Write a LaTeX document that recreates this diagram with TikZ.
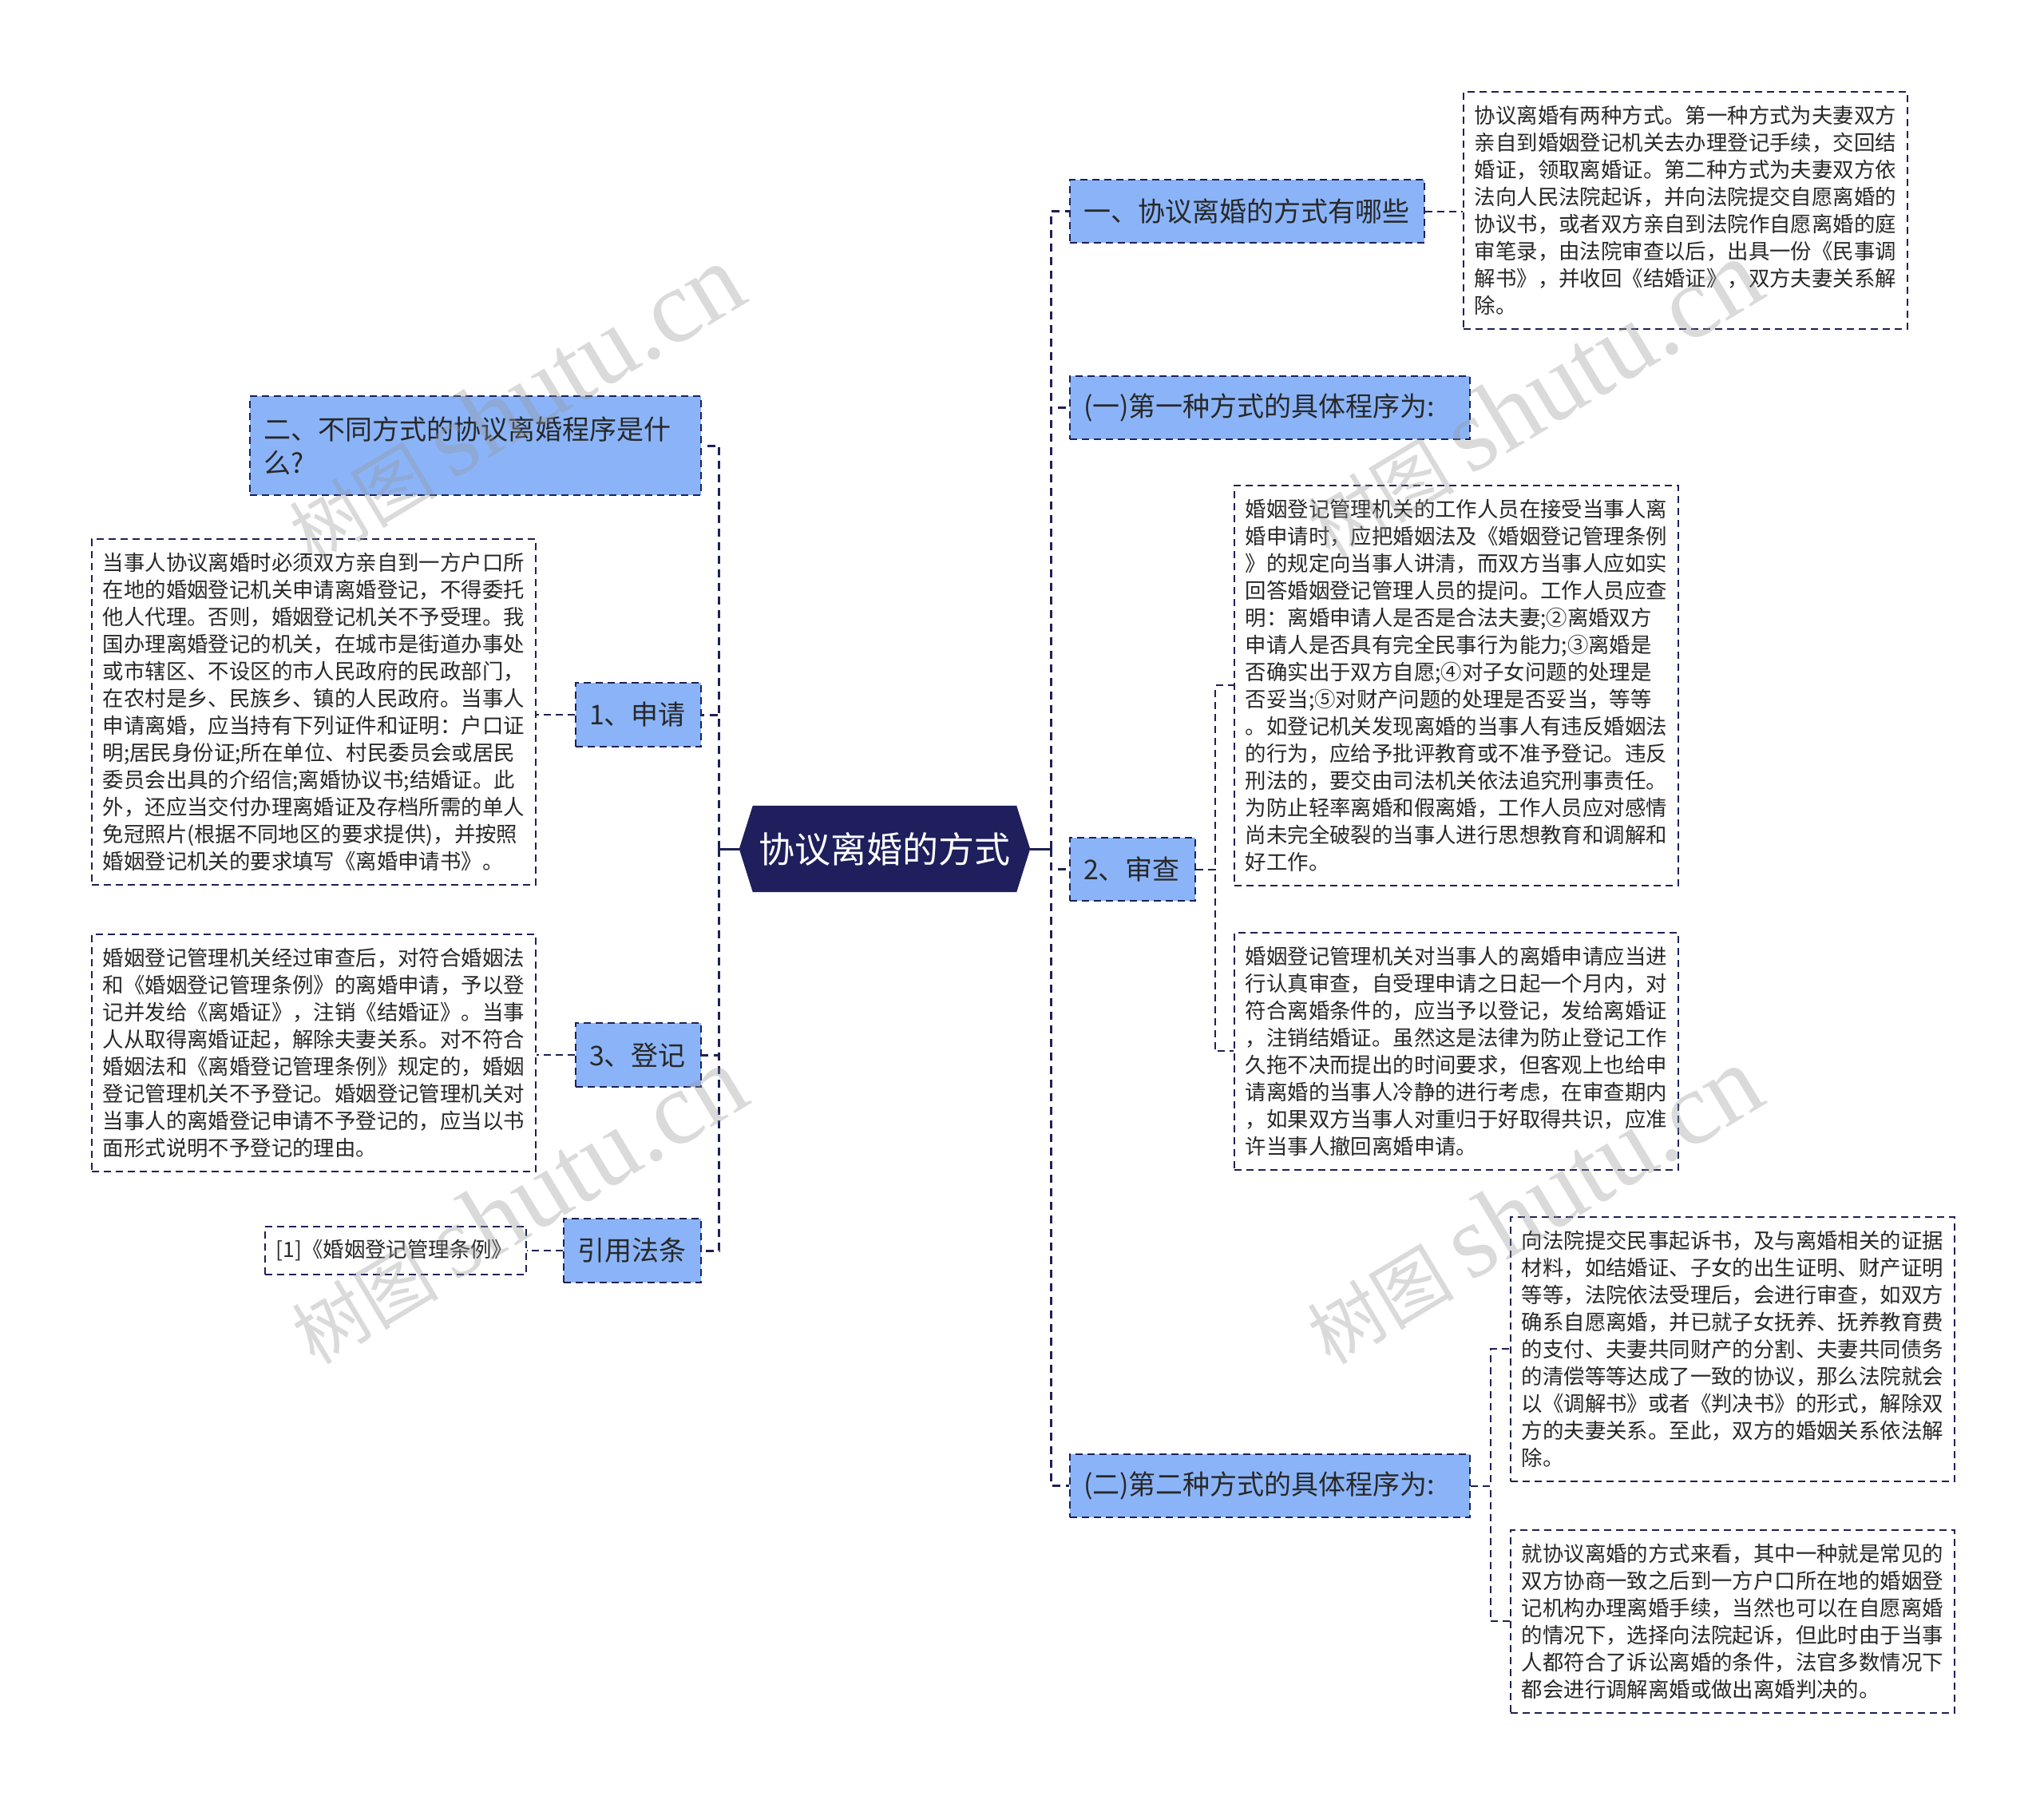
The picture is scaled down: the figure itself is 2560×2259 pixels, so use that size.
\documentclass[tikz,border=0pt]{standalone}
\usepackage{fontspec}
\setmainfont{Noto Sans CJK SC}
\newfontfamily\wmserif{Liberation Serif}
\usetikzlibrary{backgrounds,calc}
\definecolor{navy}{RGB}{30,32,84}
\definecolor{rootfill}{RGB}{30,31,92}
\definecolor{topicfill}{RGB}{139,180,248}
\definecolor{txt}{RGB}{40,40,40}
\definecolor{wm}{RGB}{150,150,150}
\tikzset{
 topic/.style={draw=navy, line width=2pt, dash pattern=on 9pt off 6pt, fill=topicfill, anchor=north west, inner xsep=17pt, inner ysep=0pt, align=left, text=txt, font=\fontsize{34pt}{42pt}\selectfont},
 leaf/.style={draw=navy, line width=1.6pt, dash pattern=on 9pt off 6pt, anchor=north west, inner xsep=14pt, inner ysep=0pt, align=left, text=txt, font=\fontsize{26.4pt}{34pt}\selectfont, text width=528pt},
 trunk/.style={draw=navy, line width=3pt, dash pattern=on 10pt off 7pt},
 rootstub/.style={draw=navy, line width=3pt},
 conn/.style={draw=navy, line width=2pt, dash pattern=on 9pt off 6pt},
 wmark/.style={rotate=31, text=wm, opacity=0.35, inner sep=0pt}
}
\newcommand{\wmtext}{\fontsize{92pt}{92pt}\selectfont 树图\ {\wmserif\fontsize{130pt}{130pt}\selectfont shutu.cn}}
\begin{document}
\begin{tikzpicture}[x=1pt,y=-1pt]
\begin{scope}[on background layer]
\fill[white] (0,0) rectangle (2560,2259);
\end{scope}
\useasboundingbox (0,0) rectangle (2560,2259);

% root
\node[text=white, font=\fontsize{45pt}{54pt}\selectfont, minimum width=364pt, minimum height=108pt, inner sep=0pt] (root) at (1108,1063) {协议离婚的方式};
\begin{scope}[on background layer]
\fill[rootfill] (root.west) -- ([xshift=17pt]root.north west) -- ([xshift=-17pt]root.north east) -- (root.east) -- ([xshift=-17pt]root.south east) -- ([xshift=17pt]root.south west) -- cycle;
\end{scope}

% right topics
\node[topic, text width=410pt, minimum height=79pt] (R1) at (1339,224) {一、协议离婚的方式有哪些};
\node[topic, text width=467pt, minimum height=79pt] (R2) at (1339,470) {(一)第一种方式的具体程序为:};
\node[topic, text width=123pt, minimum height=79pt] (R3) at (1339,1048) {2、审查};
\node[topic, text width=467pt, minimum height=79pt] (R4) at (1339,1820) {(二)第二种方式的具体程序为:};

% left topics
\node[topic, text width=531pt, minimum height=124pt] (L1) at (312,495) {二、不同方式的协议离婚程序是什\\么?};
\node[topic, text width=123pt, minimum height=80pt] (L2) at (720,854) {1、申请};
\node[topic, text width=123pt, minimum height=80pt] (L3) at (720,1280) {3、登记};
\node[topic, text width=138pt, minimum height=80pt] (L4) at (705,1525) {引用法条};

% leaves
\node[leaf, minimum height=297pt] (T1) at (1832,114) {协议离婚有两种方式。第一种方式为夫妻双方\\亲自到婚姻登记机关去办理登记手续，交回结\\婚证，领取离婚证。第二种方式为夫妻双方依\\法向人民法院起诉，并向法院提交自愿离婚的\\协议书，或者双方亲自到法院作自愿离婚的庭\\审笔录，由法院审查以后，出具一份《民事调\\解书》，并收回《结婚证》，双方夫妻关系解\\除。};

\node[leaf, minimum height=501pt] (T2) at (1545,607) {婚姻登记管理机关的工作人员在接受当事人离\\婚申请时，应把婚姻法及《婚姻登记管理条例\\》的规定向当事人讲清，而双方当事人应如实\\回答婚姻登记管理人员的提问。工作人员应查\\明：离婚申请人是否是合法夫妻;②离婚双方\\申请人是否具有完全民事行为能力;③离婚是\\否确实出于双方自愿;④对子女问题的处理是\\否妥当;⑤对财产问题的处理是否妥当，等等\\。如登记机关发现离婚的当事人有违反婚姻法\\的行为，应给予批评教育或不准予登记。违反\\刑法的，要交由司法机关依法追究刑事责任。\\为防止轻率离婚和假离婚，工作人员应对感情\\尚未完全破裂的当事人进行思想教育和调解和\\好工作。};

\node[leaf, minimum height=297pt] (T3) at (1545,1167) {婚姻登记管理机关对当事人的离婚申请应当进\\行认真审查，自受理申请之日起一个月内，对\\符合离婚条件的，应当予以登记，发给离婚证\\，注销结婚证。虽然这是法律为防止登记工作\\久拖不决而提出的时间要求，但客观上也给申\\请离婚的当事人冷静的进行考虑，在审查期内\\，如果双方当事人对重归于好取得共识，应准\\许当事人撤回离婚申请。};

\node[leaf, minimum height=331pt] (T4) at (1891,1523) {向法院提交民事起诉书，及与离婚相关的证据\\材料，如结婚证、子女的出生证明、财产证明\\等等，法院依法受理后，会进行审查，如双方\\确系自愿离婚，并已就子女抚养、抚养教育费\\的支付、夫妻共同财产的分割、夫妻共同债务\\的清偿等等达成了一致的协议，那么法院就会\\以《调解书》或者《判决书》的形式，解除双\\方的夫妻关系。至此，双方的婚姻关系依法解\\除。};

\node[leaf, minimum height=229pt] (T5) at (1891,1915) {就协议离婚的方式来看，其中一种就是常见的\\双方协商一致之后到一方户口所在地的婚姻登\\记机构办理离婚手续，当然也可以在自愿离婚\\的情况下，选择向法院起诉，但此时由于当事\\人都符合了诉讼离婚的条件，法官多数情况下\\都会进行调解离婚或做出离婚判决的。};

\node[leaf, minimum height=433pt] (LT1) at (114,674) {当事人协议离婚时必须双方亲自到一方户口所\\在地的婚姻登记机关申请离婚登记，不得委托\\他人代理。否则，婚姻登记机关不予受理。我\\国办理离婚登记的机关，在城市是街道办事处\\或市辖区、不设区的市人民政府的民政部门，\\在农村是乡、民族乡、镇的人民政府。当事人\\申请离婚，应当持有下列证件和证明：户口证\\明;居民身份证;所在单位、村民委员会或居民\\委员会出具的介绍信;离婚协议书;结婚证。此\\外，还应当交付办理离婚证及存档所需的单人\\免冠照片(根据不同地区的要求提供)，并按照\\婚姻登记机关的要求填写《离婚申请书》。};

\node[leaf, minimum height=297pt] (LT2) at (114,1169) {婚姻登记管理机关经过审查后，对符合婚姻法\\和《婚姻登记管理条例》的离婚申请，予以登\\记并发给《离婚证》，注销《结婚证》。当事\\人从取得离婚证起，解除夫妻关系。对不符合\\婚姻法和《离婚登记管理条例》规定的，婚姻\\登记管理机关不予登记。婚姻登记管理机关对\\当事人的离婚登记申请不予登记的，应当以书\\面形式说明不予登记的理由。};

\node[leaf, text width=299pt, minimum height=60pt] (LT3) at (331,1535) {[1]《婚姻登记管理条例》};

% connectors from root
\coordinate (jl) at ([xshift=-25pt]root.west);
\coordinate (jr) at ([xshift=26pt]root.east);
\draw[rootstub] (root.west) -- (jl);
\draw[rootstub] (root.east) -- (jr);
\foreach \n in {L1,L2,L3,L4} \draw[trunk] (jl) |- (\n.east);
\foreach \n in {R1,R2,R3,R4} \draw[trunk] (jr) |- (\n.west);

% secondary connectors
\draw[conn] (R1.east) -- (R1.east -| T1.west);
\coordinate (b3) at ([xshift=24pt]R3.east);
\draw[conn] (R3.east) -- (b3) |- (T2.west);
\draw[conn] (R3.east) -- (b3) |- (T3.west);
\coordinate (b4) at ([xshift=25pt]R4.east);
\draw[conn] (R4.east) -- (b4) |- (T4.west);
\draw[conn] (R4.east) -- (b4) |- (T5.west);
\draw[conn] (L2.west) -- (L2.west -| LT1.east);
\draw[conn] (L3.west) -- (L3.west -| LT2.east);
\draw[conn] (L4.west) -- (L4.west -| LT3.east);

% watermarks
\node[wmark] (wm1) at (645,506) {\wmtext};
\node[wmark] (wm2) at (1920,500) {\wmtext};
\node[wmark] (wm3) at (648,1510) {\wmtext};
\node[wmark] (wm4) at (1920,1510) {\wmtext};
\end{tikzpicture}
\end{document}
